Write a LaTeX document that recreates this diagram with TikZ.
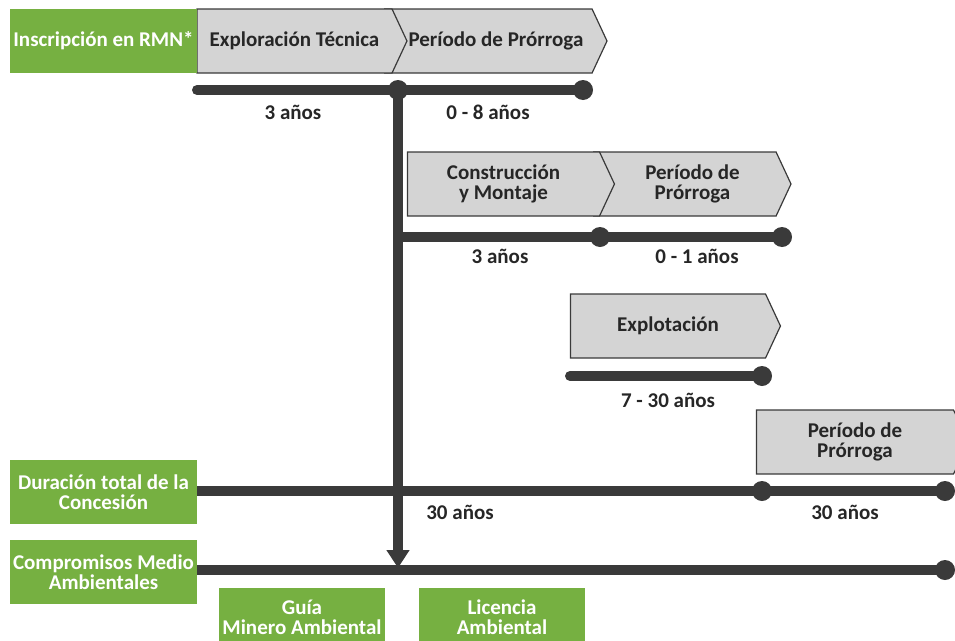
\documentclass[tikz,border=0pt]{standalone}
\usepackage{fontspec}
\setmainfont{Carlito}
\usetikzlibrary{shapes.symbols,arrows.meta}
\definecolor{rmngreen}{HTML}{76B041}
\definecolor{phasegray}{HTML}{D4D4D4}
\definecolor{bardark}{HTML}{3A3A3A}
\tikzstyle{greenbox} = [fill=rmngreen, text=white, font={\bfseries\fontsize{21}{20}\selectfont}, align=center, inner sep=0pt, minimum width=187pt, minimum height=64pt]
\tikzstyle{phase} = [draw=bardark, line width=1.2pt, fill=phasegray, text=black!85, signal, signal to=east, signal pointer angle=130, font={\bfseries\fontsize{21}{20}\selectfont}, align=center, inner sep=0pt, minimum height=64pt]
\tikzstyle{notched} = [signal from=west]
\tikzstyle{bar} = [draw=bardark, line width=10pt, line cap=round]
\tikzstyle{dot} = [circle, fill=bardark, inner sep=0pt, minimum size=20pt]
\tikzstyle{dur} = [font={\bfseries\fontsize{21}{20}\selectfont}, text=black!85]

\begin{document}
\begin{tikzpicture}[x=1pt,y=-1pt]
    \useasboundingbox (0,0) rectangle (955,640);
    \clip (0,0) rectangle (955,640);
    % phases
    \node[phase,notched,minimum width=222pt](prorr1) at (496,41){Período de Prórroga};
    \node[phase,minimum width=210pt](explor) at (294.5,41){Exploración Técnica};
    \node[phase,notched,minimum width=197pt](prorr2) at (692.5,184){Período de\\Prórroga};
    \node[phase,minimum width=207pt](constr) at (503.5,184){Construcción\\y Montaje};
    \node[phase,minimum width=210pt](explot) at (668,326){Explotación};
    \node[phase,minimum width=212pt](prorr3) at (855,442){Período de\\Prórroga};
    % left boxes
    \node[greenbox](rmn) at (103.5,41){Inscripción en RMN*};
    \node[greenbox](conc) at (103.5,492){Duración total de la\\Concesión};
    \node[greenbox](amb) at (103.5,572){Compromisos Medio\\Ambientales};
    \node[greenbox,minimum width=166pt,minimum height=58pt](guia) at (302,617){Guía\\Minero Ambiental};
    \node[greenbox,minimum width=166pt,minimum height=58pt](lic) at (502,617){Licencia\\Ambiental};
    % timelines
    \coordinate (s1) at (197,90);
    \node[dot](j1) at (398,90){};
    \node[dot](e1) at (583,90){};
    \draw[bar](s1)--(j1.center)--(e1.center);
    \coordinate (s2) at (398,237);
    \node[dot](m2) at (600,237){};
    \node[dot](e2) at (782,237){};
    \draw[bar,line cap=butt](s2)--(m2.center)--(e2.center);
    \coordinate (s3) at (570,376);
    \node[dot](e3) at (762,376){};
    \draw[bar](s3)--(e3.center);
    \node[dot](m4) at (762,491){};
    \node[dot](e4) at (945,491){};
    \draw[bar,line cap=butt](conc.east|-m4)--(m4.center)--(e4.center);
    \node[dot](e5) at (945,570){};
    \draw[bar,line cap=butt](amb.east|-e5)--(e5.center);
    \coordinate (a5) at (398,568);
    \draw[bar,line cap=butt,-{Triangle[width=22pt,length=18pt]}](j1.center)--(a5);
    % durations
    \node[dur](d1) at (293,112){3 años};
    \node[dur](d2) at (488,112){0 - 8 años};
    \node[dur](d3) at (500,256){3 años};
    \node[dur](d4) at (697,256){0 - 1 años};
    \node[dur](d5) at (668,400){7 - 30 años};
    \node[dur](d6) at (460,512){30 años};
    \node[dur](d7) at (845,512){30 años};
\end{tikzpicture}
\end{document}
